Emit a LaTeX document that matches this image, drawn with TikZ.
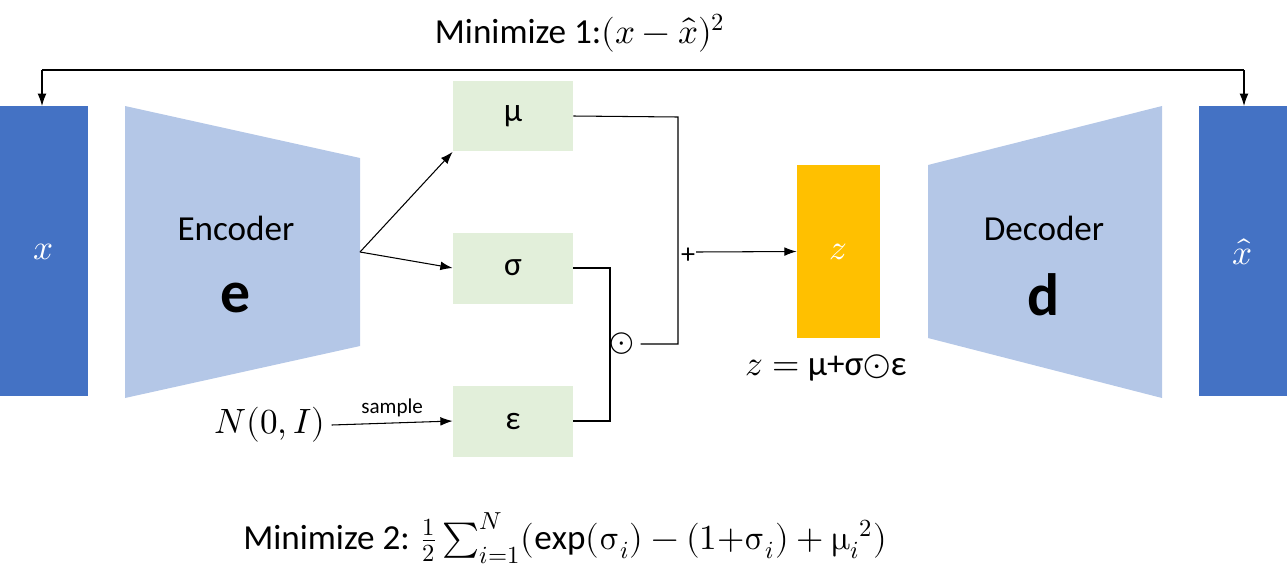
\documentclass[tikz,border=0pt]{standalone}
\usepackage{fontspec}
\usepackage{unicode-math}
\setmainfont{Carlito}
\setmathfont{Latin Modern Math}
\usetikzlibrary{arrows.meta}
\definecolor{bar}{HTML}{4472C4}
\definecolor{trap}{HTML}{B4C7E7}
\definecolor{gbox}{HTML}{E2EFDA}
\definecolor{zbox}{HTML}{FFC000}
\begin{document}
\begin{tikzpicture}[x=0.02cm,y=-0.02cm,
  gb/.style={fill=gbox,minimum width=2.4cm,minimum height=1.42cm,inner sep=0,font=\fontsize{19}{22}\selectfont},
  ln/.style={line width=0.6pt},
  ar/.style={ln,-{Latex[length=7pt,width=5pt]}},
  txt/.style={font=\fontsize{20}{24}\selectfont}]
\useasboundingbox (0,0) rectangle (1287,582);
\fill[bar] (0,106) rectangle (88,396);
\node[white,txt] (x) at (44,252) {$x$};
\fill[bar] (1199,106) rectangle (1287,396);
\node[white,txt] (xh) at (1243,252) {$\hat{x}$};
\fill[trap] (125,106) -- (360,158) -- (360,346) -- (125,398) -- cycle;
\fill[trap] (928,165) -- (1162,106) -- (1162,398) -- (928,338) -- cycle;
\node[txt] at (236,228) {Encoder};
\node[font=\fontsize{34}{40}\selectfont\bfseries] at (236,298) {e};
\node[txt] at (1044,228) {Decoder};
\node[font=\fontsize{34}{40}\selectfont\bfseries] at (1044,295) {d};
\coordinate (eo) at (360,252);
\node[gb] (mu) at (513,116) {μ};
\node[gb] (sg) at (513,268) {σ};
\node[gb] (ep) at (513,421) {ε};
\draw[ar] (eo) -- (mu.south west);
\draw[ar] (eo) -- (sg.west);
\node[txt] (n) at (270,425) {$N(0,I)$};
\draw[ar] (n.east) -- node[above,font=\fontsize{12}{14}\selectfont]{sample} (ep.west);
\node[font=\fontsize{18}{20}\selectfont] (od) at (622,344) {$\odot$};
\draw[ln] (sg.east) -- (610,268) -- (610,421) -- (ep.east);
\draw[ln] (mu.east) -- (678,117) -- (678,344) -- (od.east);
\node[fill=zbox,minimum width=1.66cm,minimum height=3.46cm,inner sep=0] (z) at (838.5,251.5) {};
\node[white,txt] at (z) {$z$};
\node[font=\fontsize{16}{18}\selectfont] (plus) at (688,256) {+};
\draw[ar] (696,252) -- (z.west);
\node[txt] at (826,368) {$z=$ μ+σ$\odot$ε};
\coordinate (tl) at (42,70);
\coordinate (tr) at (1244,70);
\draw[ln] (tl) -- (tr);
\draw[ar] (tl) -- (42,106);
\draw[ar] (tr) -- (1244,106);
\node[txt] at (580,33) {Minimize 1:$(x-\hat{x})^2$};
\node[txt] at (565,538) {Minimize 2: $\frac{1}{2}\sum_{i=1}^{N}(\exp(\upsigma_i)-(1{+}\upsigma_i)+{\upmu_i}^2)$};
\end{tikzpicture}
\end{document}
